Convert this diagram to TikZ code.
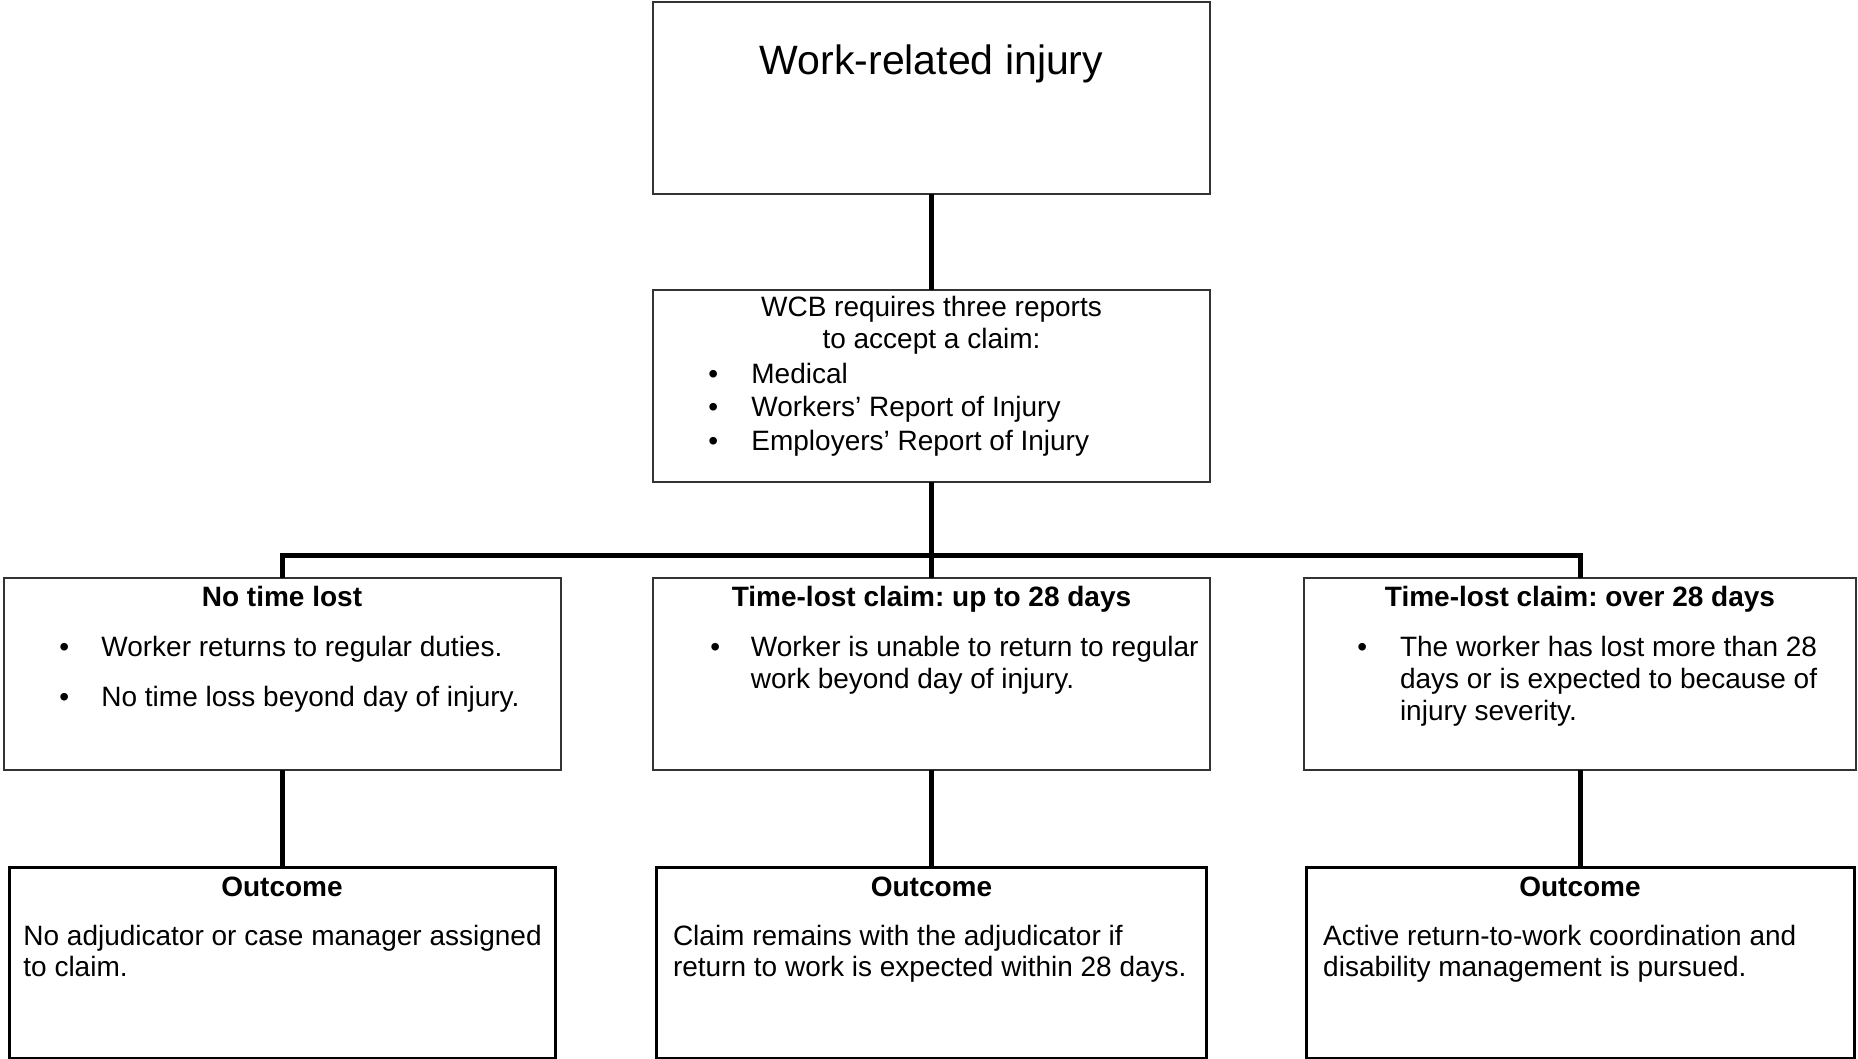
\documentclass[tikz,border=0pt]{standalone}
\usepackage{fontspec}
\setmainfont{Liberation Sans}
\usetikzlibrary{calc}
\frenchspacing

\tikzset{
  frame/.style={draw=black!80, line width=1pt, inner sep=0pt, outer sep=0pt},
  outframe/.style={draw=black, line width=1.5pt, inner sep=0pt, outer sep=0pt},
  link/.style={line width=2.5pt},
  body/.style={anchor=base west, inner sep=0pt, align=left, font=\fontsize{14}{15.85}\selectfont},
  head/.style={anchor=base, inner sep=0pt, font=\bfseries\fontsize{14}{15.85}\selectfont},
  dot/.style={anchor=base west, inner sep=0pt, font=\fontsize{14}{15.85}\selectfont},
}

\begin{document}
\begin{tikzpicture}[x=0.5pt, y=-0.5pt]
  \useasboundingbox (0,0) rectangle (1858,1059);

  % boxes
  \node[frame, minimum width=557*0.5pt, minimum height=192*0.5pt] (injury) at (931.5,98) {};
  \node[frame, minimum width=557*0.5pt, minimum height=192*0.5pt] (wcb) at (931.5,386) {};
  \node[frame, minimum width=557*0.5pt, minimum height=192*0.5pt] (nolost) at (282,674) {};
  \node[frame, minimum width=557*0.5pt, minimum height=192*0.5pt] (upto) at (931.5,674) {};
  \node[frame, minimum width=552*0.5pt, minimum height=192*0.5pt] (over) at (1580,674) {};
  \node[outframe, minimum width=546*0.5pt, minimum height=191*0.5pt] (outA) at (282,962.5) {};
  \node[outframe, minimum width=550*0.5pt, minimum height=191*0.5pt] (outB) at (931.5,962.5) {};
  \node[outframe, minimum width=548*0.5pt, minimum height=191*0.5pt] (outC) at (1580,962.5) {};

  % connectors
  \coordinate (fork) at (931.5,555);
  \draw[link] (injury.south) -- (wcb.north);
  \draw[link] (wcb.south) -- (fork);
  \draw[link] (nolost.north) |- (fork) -| (over.north);
  \draw[link] (fork) -- (upto.north);
  \draw[link] (nolost.south) -- (outA.north);
  \draw[link] (upto.south) -- (outB.north);
  \draw[link] (over.south) -- (outC.north);

  % texts (base of a multi-line node = its last line)
  \node[anchor=base, inner sep=0pt, font=\fontsize{20.5}{24}\selectfont] (title) at (931.5,75) {Work-related injury};
  \node[anchor=base, inner sep=0pt, align=center, font=\fontsize{14}{15.8}\selectfont] (wcbhead) at (931.5,348.3)
    {WCB requires three reports\\to accept a claim:};
  \foreach \t [count=\i] in {Medical, Workers’ Report of Injury, Employers’ Report of Injury} {
    \node[dot] (wcbdot\i) at (708,{383.3+(\i-1)*33.6}) {\textbullet};
    \node[body] (wcbitem\i) at (751,{383.3+(\i-1)*33.6}) {\t};
  }

  \node[head] (nolosthead) at (282,606.7) {No time lost};
  \node[dot] (nolostdot1) at (59,656.7) {\textbullet};
  \node[body] (nolostitem1) at (101,656.7) {Worker returns to regular duties.};
  \node[dot] (nolostdot2) at (59,706.7) {\textbullet};
  \node[body] (nolostitem2) at (101,706.7) {No time loss beyond day of injury.};

  \node[head] (uptohead) at (931.5,606.7) {Time-lost claim: up to 28 days};
  \node[dot] (uptodot) at (710,656.7) {\textbullet};
  \node[body] (uptoitem) at (750.5,688.4) {Worker is unable to return to regular\\work beyond day of injury.};

  \node[head] (overhead) at (1580,606.7) {Time-lost claim: over 28 days};
  \node[dot] (overdot) at (1357,656.7) {\textbullet};
  \node[body] (overitem) at (1399.6,720.1) {The worker has lost more than 28\\days or is expected to because of\\injury severity.};

  \node[head] (outAhead) at (282,896.7) {Outcome};
  \node[body] (outAtext) at (23,976.7) {No adjudicator or case manager assigned\\to claim.};
  \node[head] (outBhead) at (931.5,896.7) {Outcome};
  \node[body] (outBtext) at (672.6,976.7) {Claim remains with the adjudicator if\\return to work is expected within 28 days.};
  \node[head] (outChead) at (1580,896.7) {Outcome};
  \node[body] (outCtext) at (1322.8,976.7) {Active return-to-work coordination and\\disability management is pursued.};
\end{tikzpicture}
\end{document}
